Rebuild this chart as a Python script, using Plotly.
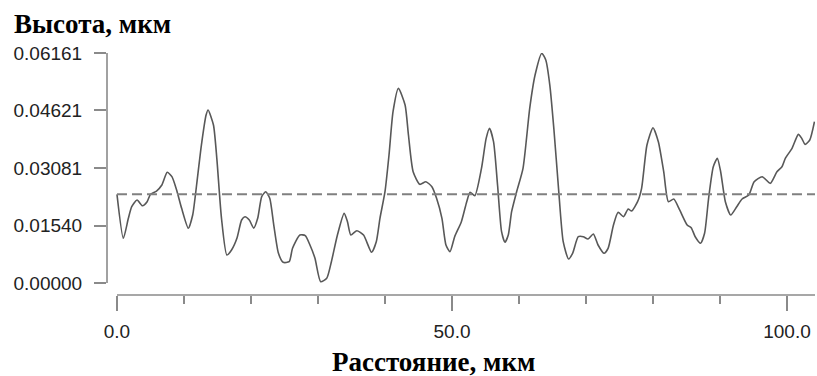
import plotly.graph_objects as go

# --- data ---
distance_um = [0.0, 0.95, 1.7, 2.2, 3.0, 3.8, 4.5, 5.0, 5.9, 6.7, 7.5, 8.2, 8.9, 9.65, 10.65,
               11.3, 12.0, 12.6, 13.3, 13.6, 14.4, 14.9, 15.6, 16.4, 17.1, 17.9, 18.6, 19.1,
               19.75, 20.4, 21.0, 21.6, 22.2, 22.8, 23.4, 24.1, 24.8, 25.7, 26.2, 27.3, 28.1,
               28.8, 29.55, 30.4, 31.3, 32.0, 32.9, 33.9, 34.4, 34.9, 35.8, 36.8, 38.0, 38.7,
               39.25, 40.0, 40.6, 41.2, 42.0, 43.0, 43.5, 44.2, 45.2, 46.1, 47.0, 47.7, 48.5,
               49.1, 49.7, 50.4, 51.4, 52.2, 52.7, 53.4, 54.4, 55.1, 55.6, 56.2, 56.8, 57.4,
               57.9, 58.4, 58.9, 59.65, 60.6, 61.6, 62.4, 63.4, 64.0, 64.6, 65.2, 65.9, 66.6,
               67.4, 68.0, 68.85, 69.6, 70.3, 71.1, 71.8, 72.7, 73.3, 74.1, 74.8, 75.6, 76.3,
               76.8, 77.7, 78.3, 79.1, 80.0, 80.8, 81.6, 82.3, 83.1, 84.0, 85.1, 85.7, 86.3,
               87.1, 87.7, 88.3, 89.0, 89.6, 90.1, 90.8, 91.6, 92.5, 93.3, 94.3, 95.1, 96.3,
               97.5, 98.5, 99.25, 99.75, 100.75, 101.7, 102.2, 102.7, 103.4, 104.1]
height_um = [0.02376, 0.01197, 0.01733, 0.02044, 0.02223, 0.0207, 0.02178, 0.02376, 0.02464,
             0.02625, 0.02965, 0.02848, 0.02491, 0.0200, 0.01465, 0.01821, 0.02804, 0.03696,
             0.0450, 0.04633, 0.04232, 0.0334, 0.01733, 0.0075, 0.00884, 0.01197, 0.01687,
             0.01776, 0.01687, 0.0147, 0.01733, 0.02312, 0.02446, 0.02268, 0.01553, 0.00795,
             0.00554, 0.0057, 0.00929, 0.01286, 0.01268, 0.01018, 0.00661, 0.00035, 0.00125,
             0.0057, 0.01286, 0.01866, 0.01643, 0.01286, 0.01401, 0.01286, 0.00822, 0.01106,
             0.01733, 0.02446, 0.03428, 0.04588, 0.05214, 0.04767, 0.03964, 0.02981, 0.02643,
             0.02714, 0.0258, 0.02268, 0.01733, 0.01018, 0.00839, 0.0124, 0.01643, 0.02178,
             0.02429, 0.02339, 0.03072, 0.03875, 0.04143, 0.03785, 0.02625, 0.01374, 0.0109,
             0.01286, 0.0191, 0.02446, 0.03072, 0.04679, 0.05571, 0.06152, 0.05973, 0.05303,
             0.04143, 0.02536, 0.01106, 0.00643, 0.00795, 0.0124, 0.0124, 0.01178, 0.01312,
             0.01018, 0.00795, 0.00929, 0.01553, 0.01893, 0.01776, 0.01982, 0.01928, 0.02178,
             0.02536, 0.03696, 0.0416, 0.03785, 0.02981, 0.02178, 0.0225, 0.0195, 0.01553,
             0.01481, 0.0124, 0.01063, 0.01331, 0.02268, 0.03115, 0.0334, 0.02981, 0.02178,
             0.01821, 0.02044, 0.0225, 0.02357, 0.02714, 0.02848, 0.0267, 0.02981, 0.03115,
             0.0334, 0.03607, 0.03982, 0.03875, 0.03714, 0.0383, 0.0432]
mean_level = 0.0238
y_tick_values = [0.0, 0.0154, 0.03081, 0.04621, 0.06161]
y_tick_labels = ["0.00000", "0.01540", "0.03081", "0.04621", "0.06161"]
x_major_ticks = [0, 50, 100]
x_tick_labels = ["0.0", "50.0", "100.0"]
y_title = "Высота, мкм"
x_title = "Расстояние, мкм"

# --- layout geometry ---
W, H = 817, 376
ML, MR, MT, MB = 107, 2, 53, 81
x_range = [-1.49, 104.18]
y_range = [-0.003214, 0.06161]

def xfrac(v):
    return (v - x_range[0]) / (x_range[1] - x_range[0])

def yfrac(v):
    return (v - y_range[0]) / (y_range[1] - y_range[0])

axis_grey = "#8a8a8a"
tick_font = dict(family="Liberation Sans, Arial, sans-serif", size=19, color="#222222")
title_font = dict(family="Liberation Serif, Times New Roman, serif", size=27, color="#000000")

fig = go.Figure()
fig.add_trace(go.Scatter(
    x=distance_um, y=height_um, mode="lines",
    line=dict(color="#585858", width=1.6, shape="spline", smoothing=0.6),
    hoverinfo="skip", showlegend=False,
))
fig.add_trace(go.Scatter(
    x=[0, x_range[1]], y=[mean_level, mean_level], mode="lines",
    line=dict(color="#808080", width=2, dash="10px,5px"),
    hoverinfo="skip", showlegend=False,
))

# detached axis lines
fig.add_shape(type="line", xref="paper", yref="paper",
              x0=xfrac(0), x1=1, y0=0, y1=0,
              line=dict(color=axis_grey, width=1.6))
fig.add_shape(type="line", xref="paper", yref="paper",
              x0=0, x1=0, y0=yfrac(0), y1=yfrac(y_tick_values[-1]),
              line=dict(color=axis_grey, width=1.6))

fig.update_xaxes(
    range=x_range, showgrid=False, zeroline=False, showline=False,
    tickmode="array", tickvals=x_major_ticks, ticktext=x_tick_labels,
    ticks="outside", ticklen=15, tickwidth=1.6, tickcolor=axis_grey,
    tickfont=tick_font, ticklabelstandoff=4,
    minor=dict(tickmode="linear", tick0=0, dtick=10, ticks="outside",
               ticklen=8, tickwidth=1.6, tickcolor=axis_grey),
)
fig.update_yaxes(
    range=y_range, showgrid=False, zeroline=False, showline=False,
    tickmode="array", tickvals=y_tick_values, ticktext=y_tick_labels,
    ticks="outside", ticklen=12, tickwidth=1.6, tickcolor=axis_grey,
    tickfont=tick_font, ticklabelstandoff=8,
)

pw = W - ML - MR
ph = H - MT - MB
fig.add_annotation(text=f"<b>{y_title}</b>", xref="paper", yref="paper",
                   x=(12 - ML) / pw, y=1 + (MT - 24) / ph,
                   xanchor="left", yanchor="middle", showarrow=False, font=title_font)
fig.add_annotation(text=f"<b>{x_title}</b>", xref="paper", yref="paper",
                   x=(433 - ML) / pw, y=-(362 - (H - MB)) / ph,
                   xanchor="center", yanchor="middle", showarrow=False, font=title_font)

fig.update_layout(
    width=W, height=H,
    margin=dict(l=ML, r=MR, t=MT, b=MB, pad=0),
    paper_bgcolor="white", plot_bgcolor="white",
)

fig.write_html("out.html")
